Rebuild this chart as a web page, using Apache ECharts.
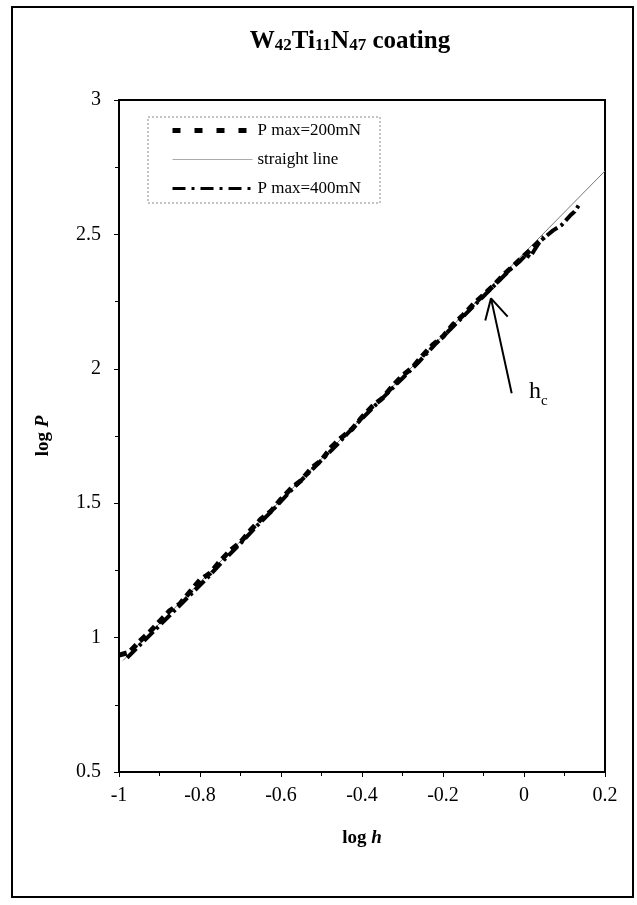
<!DOCTYPE html>
<html>
<head>
<meta charset="utf-8">
<script src="https://cdn.jsdelivr.net/npm/echarts@6/dist/echarts.min.js"></script>
<style>
html,body{margin:0;padding:0;background:#fff;}
#chart{width:637px;height:905px;}
</style>
</head>
<body>
<div id="chart"></div>
<script>
// ---- data ----
var seriesNames = ['P max=200mN', 'straight line', 'P max=400mN'];

var x200 = [-1, -0.975, -0.95, -0.925, -0.9, -0.875, -0.85, -0.825, -0.8, -0.775, -0.75, -0.725, -0.7, -0.675, -0.65, -0.625, -0.6, -0.575, -0.55, -0.525, -0.5, -0.475, -0.45, -0.425, -0.4, -0.375, -0.35, -0.325, -0.3, -0.275, -0.25, -0.225, -0.2, -0.175, -0.15, -0.125, -0.1, -0.075, -0.05, -0.025, 0, 0.025, 0.05];
var y200 = [0.935, 0.945, 0.985, 1.02, 1.06, 1.10, 1.125, 1.17, 1.215, 1.24, 1.285, 1.325, 1.355, 1.40, 1.44, 1.47, 1.515, 1.555, 1.585, 1.63, 1.66, 1.71, 1.745, 1.775, 1.82, 1.86, 1.89, 1.935, 1.975, 2.005, 2.05, 2.09, 2.12, 2.165, 2.20, 2.24, 2.275, 2.31, 2.35, 2.385, 2.42, 2.455, 2.49];

var x400 = [-0.98, -0.94, -0.9, -0.86, -0.82, -0.78, -0.74, -0.7, -0.66, -0.62, -0.58, -0.54, -0.5, -0.46, -0.42, -0.38, -0.34, -0.3, -0.26, -0.22, -0.18, -0.14, -0.1, -0.06, -0.03, -0.01, 0.005, 0.015, 0.025, 0.04, 0.056, 0.072, 0.093, 0.114, 0.125, 0.138];
var y400 = [0.925, 0.985, 1.045, 1.105, 1.165, 1.225, 1.29, 1.35, 1.415, 1.475, 1.54, 1.60, 1.66, 1.72, 1.785, 1.845, 1.905, 1.965, 2.025, 2.09, 2.15, 2.21, 2.27, 2.33, 2.375, 2.40, 2.425, 2.415, 2.44, 2.475, 2.495, 2.515, 2.535, 2.57, 2.585, 2.615];

var xLine = [-0.99, 0.2];
var yLine = [0.915, 2.736];

// arrow pointing at h_c: tail, tip, (break), wing, tip, wing
var arrowX = [-0.0304, -0.0815, null, -0.0956, -0.0815, -0.0403];
var arrowY = [1.909, 2.262, null, 2.18, 2.262, 2.194];

var xTicks = [-1, -0.8, -0.6, -0.4, -0.2, 0, 0.2];
var yTicks = [0.5, 1, 1.5, 2, 2.5, 3];

function pairs(xs, ys) {
  var out = [];
  for (var i = 0; i < xs.length; i++) {
    out.push(xs[i] === null ? [null, null] : [xs[i], ys[i]]);
  }
  return out;
}

var serif = "'Liberation Serif', 'DejaVu Serif', serif";
var chart = echarts.init(document.getElementById('chart'), null, {renderer: 'canvas'});
var noSym = {opacity: 0, borderWidth: 0};

var option = {
  backgroundColor: '#fff',
  animation: false,
  textStyle: {fontFamily: serif, color: '#000'},
  grid: {left: 119, right: 32, top: 100, bottom: 133, show: true, borderColor: '#000', borderWidth: 2, backgroundColor: 'transparent'},
  xAxis: {
    type: 'value', min: xTicks[0], max: xTicks[xTicks.length - 1], interval: 0.2,
    name: '{b|log }{i|h}', nameLocation: 'middle', nameGap: 57,
    nameTextStyle: {rich: {
      b: {fontFamily: serif, fontWeight: 'bold', fontSize: 19, color: '#000'},
      i: {fontFamily: serif, fontWeight: 'bold', fontStyle: 'italic', fontSize: 19, color: '#000'}
    }},
    axisLine: {show: true, onZero: false, lineStyle: {color: '#000', width: 2}},
    axisTick: {show: true, length: 5, lineStyle: {color: '#000', width: 1}},
    minorTick: {show: true, splitNumber: 2, length: 4, lineStyle: {color: '#000', width: 1}},
    splitLine: {show: false},
    axisLabel: {color: '#000', fontFamily: serif, fontSize: 20, margin: 14,
      formatter: function (v) { return String(Math.round(v * 10) / 10); }}
  },
  yAxis: {
    type: 'value', min: yTicks[0], max: yTicks[yTicks.length - 1], interval: 0.5,
    name: '{b|log }{i|P}', nameLocation: 'middle', nameGap: 66, nameRotate: 90,
    nameTextStyle: {rich: {
      b: {fontFamily: serif, fontWeight: 'bold', fontSize: 19, color: '#000'},
      i: {fontFamily: serif, fontWeight: 'bold', fontStyle: 'italic', fontSize: 19, color: '#000'}
    }},
    axisLine: {show: true, onZero: false, lineStyle: {color: '#000', width: 2}},
    axisTick: {show: true, length: 5, lineStyle: {color: '#000', width: 1}},
    minorTick: {show: true, splitNumber: 2, length: 4, lineStyle: {color: '#000', width: 1}},
    splitLine: {show: false},
    axisLabel: {color: '#000', fontFamily: serif, fontSize: 20, margin: 18,
      formatter: function (v) { return String(Math.round(v * 10) / 10); }}
  },
  legend: {
    orient: 'vertical', left: 165, top: 117,
    itemWidth: 80, itemHeight: 14, itemGap: 12,
    textStyle: {fontFamily: serif, fontSize: 17, color: '#000'},
    data: [
      {name: seriesNames[0], itemStyle: noSym, lineStyle: {width: 5, type: [8, 14], color: '#000', cap: 'butt'}},
      {name: seriesNames[1], itemStyle: noSym, lineStyle: {width: 1, type: 'solid', color: '#aaa'}},
      {name: seriesNames[2], itemStyle: noSym, lineStyle: {width: 3, type: [13, 6, 3, 6], color: '#000', cap: 'butt'}}
    ]
  },
  series: [
    {
      name: seriesNames[1], type: 'line', symbol: 'none', z: 1,
      data: pairs(xLine, yLine),
      lineStyle: {color: '#777', width: 1}, itemStyle: {color: '#777'}
    },
    {
      name: seriesNames[0], type: 'line', symbol: 'none', z: 3,
      data: pairs(x200, y200),
      lineStyle: {color: '#000', width: 5, type: [8, 5], cap: 'butt'}, itemStyle: {color: '#000'}
    },
    {
      name: seriesNames[2], type: 'line', symbol: 'none', z: 2,
      data: pairs(x400, y400),
      lineStyle: {color: '#000', width: 4, type: [13, 4, 3, 4], cap: 'butt'}, itemStyle: {color: '#000'}
    },
    {
      name: 'arrow', type: 'line', symbol: 'none', z: 4, connectNulls: false,
      data: pairs(arrowX, arrowY),
      lineStyle: {color: '#000', width: 2}, itemStyle: {color: '#000'},
      silent: true, legendHoverLink: false
    }
  ],
  graphic: [
    {type: 'rect', z: 0, silent: true, shape: {x: 12, y: 7, width: 621, height: 890},
      style: {fill: 'none', stroke: '#000', lineWidth: 2}},
    {type: 'rect', z: 100, silent: true, shape: {x: 148, y: 117, width: 232, height: 86},
      style: {fill: 'none', stroke: '#888', lineWidth: 1, lineDash: [2, 2]}},
    {type: 'text', z: 100, silent: true, x: 350, y: 29,
      style: {
        text: '{b|W}{s|42}{b|Ti}{s|11}{b|N}{s|47}{b| coating}',
        textAlign: 'center', textVerticalAlign: 'top',
        rich: {
          b: {fontFamily: serif, fontWeight: 'bold', fontSize: 25, color: '#000', verticalAlign: 'bottom'},
          s: {fontFamily: serif, fontWeight: 'bold', fontSize: 17, color: '#000', verticalAlign: 'bottom'}
        }
      }},
    {type: 'text', z: 100, silent: true, x: 529, y: 380,
      style: {text: 'h', fontFamily: serif, fontSize: 24, fill: '#000'}},
    {type: 'text', z: 100, silent: true, x: 541, y: 394,
      style: {text: 'c', fontFamily: serif, fontSize: 15, fill: '#000'}}
  ]
};
chart.setOption(option);
</script>
</body>
</html>
